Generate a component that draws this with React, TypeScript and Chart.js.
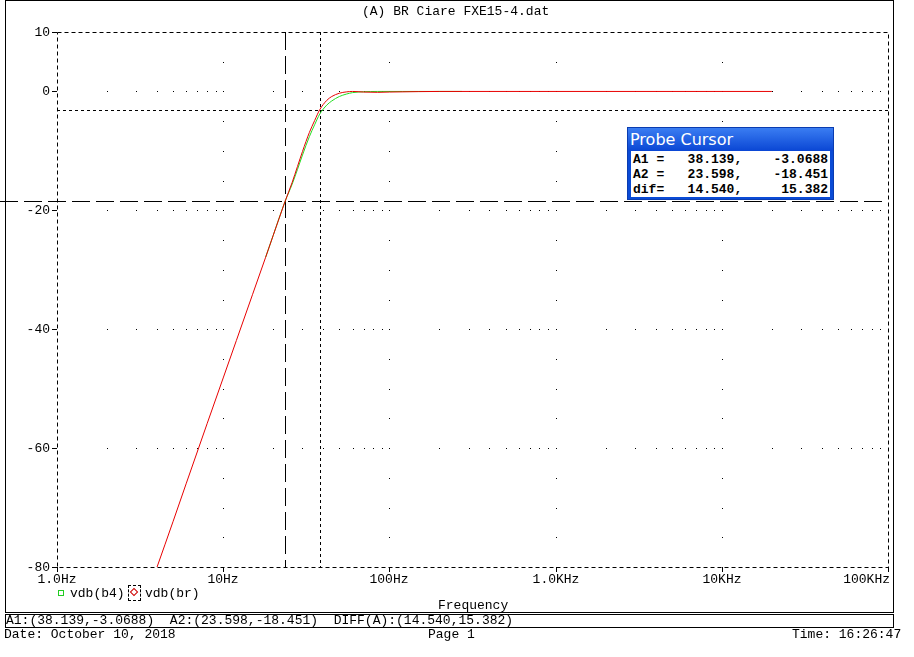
import React, { useEffect, useRef } from 'react';
import { Chart, registerables } from 'chart.js';

Chart.register(...registerables);

// ---- data ----
const xTickValues = [1, 10, 100, 1000, 10000, 100000];
const xTickLabels = ['1.0Hz', '10Hz', '100Hz', '1.0KHz', '10KHz', '100KHz'];
const yTickValues = [10, 0, -20, -40, -60, -80];
const yTickLabels = ['10', '0', '-20', '-40', '-60', '-80'];

const brFreq = [4, 5, 6, 8, 10, 12, 15, 18, 20, 23.6, 26, 28, 30, 33, 35.5, 38.1, 42, 45, 50, 55, 60, 70, 85, 100, 150, 200, 20000];
const brDb = [-80, -72.3, -65.9, -55.9, -48.2, -41.9, -34.2, -27.9, -24.2, -18.45, -15.3, -12.6, -10.1, -6.9, -4.9, -3.07, -1.5, -0.85, -0.3, -0.08, 0, -0.1, -0.15, -0.1, -0.03, 0, 0];

const b4Freq = [18, 20, 23.6, 26, 28, 30, 33, 35.5, 38.1, 42, 45, 50, 55, 60, 70, 85, 120, 273];
const b4Db = [-27.9, -24.2, -18.45, -15.6, -13.1, -10.7, -7.6, -5.6, -3.8, -2.3, -1.6, -0.85, -0.45, -0.2, -0.05, 0, 0, 0];

const cursorA1 = [38.139, -3.0688];
const cursorA2 = [23.598, -18.451];
const cursorDiff = ['14.540', '15.382'];

const gridRowsDb = [0, -20, -40, -60];
const gridDecades = [10, 100, 1000, 10000];
const minorMultipliers = [2, 3, 4, 5, 6, 7, 8, 9];

const MONO = '"Liberation Mono", "DejaVu Sans Mono", monospace';

const pspicePlugin = {
  id: 'pspice',
  beforeDatasetsDraw(chart: any) {
    const { ctx, chartArea: a, scales } = chart;
    const xs = scales.x;
    const ys = scales.y;
    const px = (v: number) => Math.round(xs.getPixelForValue(v));
    const py = (v: number) => Math.round(ys.getPixelForValue(v));
    const L = Math.round(a.left), R = Math.round(a.right), T = Math.round(a.top), B = Math.round(a.bottom);
    ctx.save();
    ctx.fillStyle = '#000';
    for (const db of gridRowsDb) {
      const y = py(db);
      for (let d = 1; d < 100000; d *= 10) {
        for (const m of minorMultipliers) ctx.fillRect(px(d * m), y, 1, 1);
      }
    }
    for (const dec of gridDecades) {
      const x = px(dec);
      for (let db = -75; db < 10; db += 5) ctx.fillRect(x, py(db), 1, 1);
    }
    ctx.strokeStyle = '#000';
    ctx.lineWidth = 1;
    ctx.setLineDash([4, 3]);
    ctx.strokeRect(L + 0.5, T + 0.5, R - L, B - T);
    const seg = (x1: number, y1: number, x2: number, y2: number) => {
      ctx.beginPath();
      ctx.moveTo(x1, y1);
      ctx.lineTo(x2, y2);
      ctx.stroke();
    };
    ctx.setLineDash([3, 3]);
    seg(px(cursorA1[0]) + 0.5, T, px(cursorA1[0]) + 0.5, B);
    seg(L, py(cursorA1[1]) + 0.5, R, py(cursorA1[1]) + 0.5);
    ctx.setLineDash([18, 6]);
    seg(px(cursorA2[0]) + 0.5, T, px(cursorA2[0]) + 0.5, B);
    seg(0, py(cursorA2[1]) + 0.5, R, py(cursorA2[1]) + 0.5);
    ctx.setLineDash([]);
    for (const v of yTickValues) seg(L - 5, py(v) + 0.5, L, py(v) + 0.5);
    for (const v of xTickValues) seg(px(v) + 0.5, B, px(v) + 0.5, B + 5);
    ctx.font = '13px ' + MONO;
    ctx.textBaseline = 'middle';
    ctx.textAlign = 'right';
    yTickValues.forEach((v, i) => ctx.fillText(yTickLabels[i], L - 7, py(v) + 1));
    xTickValues.forEach((v, i) => {
      const last = i === xTickValues.length - 1;
      ctx.textAlign = last ? 'right' : 'center';
      ctx.fillText(xTickLabels[i], last ? px(v) + 2 : px(v), B + 13);
    });
    ctx.restore();
  },
};

const abs = (left: number, top: number, extra: any = {}) => ({
  position: 'absolute' as const,
  left,
  top,
  whiteSpace: 'pre' as const,
  lineHeight: '15px',
  ...extra,
});

export default function App() {
  const ref = useRef<HTMLCanvasElement>(null);
  useEffect(() => {
    if (!ref.current) return;
    const chart = new Chart(ref.current, {
      type: 'line',
      data: {
        datasets: [
          {
            label: 'vdb(br)',
            data: brFreq.map((f, i) => ({ x: f, y: brDb[i] })),
            borderColor: '#e80000',
            borderWidth: 1,
            pointRadius: 0,
            cubicInterpolationMode: 'monotone',
          },
          {
            label: 'vdb(b4)',
            data: b4Freq.map((f, i) => ({ x: f, y: b4Db[i] })),
            borderColor: '#22dd22',
            borderWidth: 1,
            pointRadius: 0,
            cubicInterpolationMode: 'monotone',
          },
        ],
      },
      options: {
        animation: false,
        responsive: false,
        devicePixelRatio: 1,
        events: [],
        layout: { padding: { top: 32, right: 26, left: 0, bottom: 0 } },
        plugins: { legend: { display: false }, tooltip: { enabled: false }, title: { display: false } },
        scales: {
          x: {
            type: 'logarithmic',
            min: 1,
            max: 100000,
            grid: { display: false },
            border: { display: false },
            ticks: { display: false },
            afterFit: (s: any) => { s.height = 90; },
          },
          y: {
            type: 'linear',
            min: -80,
            max: 10,
            grid: { display: false },
            border: { display: false },
            ticks: { display: false },
            afterFit: (s: any) => { s.width = 57; },
          },
        },
      } as any,
      plugins: [pspicePlugin],
    });
    return () => chart.destroy();
  }, []);

  const rowStyle = { height: 15, lineHeight: '15px' };
  return (
    <div style={{ position: 'absolute', left: 0, top: 0, width: 914, height: 657, background: '#fff', fontFamily: MONO, fontSize: 13, color: '#000', overflow: 'hidden' }}>
      <canvas ref={ref} width={914} height={657} style={{ position: 'absolute', left: 0, top: 0, width: 914, height: 657 }} />
      <div style={{ position: 'absolute', left: 5, top: 0, width: 889, height: 613, border: '1px solid #000', boxSizing: 'border-box', pointerEvents: 'none' }} />
      <div style={abs(362, 4)}>(A) BR Ciare FXE15-4.dat</div>
      <div style={{ position: 'absolute', left: 58, top: 590, width: 4, height: 4, border: '1px solid #22cc22' }} />
      <div style={abs(70, 586)}>vdb(b4)</div>
      <div style={{ position: 'absolute', left: 128, top: 585, width: 11, height: 14, border: '1px dashed #000' }} />
      <div style={{ position: 'absolute', left: 131, top: 589, width: 4, height: 4, border: '1px solid #cc0000', transform: 'rotate(45deg)' }} />
      <div style={abs(145, 586)}>vdb(br)</div>
      <div style={abs(438, 598)}>Frequency</div>
      <div style={{ position: 'absolute', left: 5, top: 614, width: 889, height: 14, border: '1px solid #000', boxSizing: 'border-box' }} />
      <div style={abs(6, 613)}>{`A1:(${cursorA1[0]},${cursorA1[1]})  A2:(${cursorA2[0]},${cursorA2[1]})  DIFF(A):(${cursorDiff[0]},${cursorDiff[1]})`}</div>
      <div style={abs(4, 627)}>Date: October 10, 2018</div>
      <div style={abs(428, 627)}>Page 1</div>
      <div style={abs(792, 627)}>Time: 16:26:47</div>
      <div style={{ position: 'absolute', left: 627, top: 127, width: 207, height: 73, background: '#0a4bd6', boxSizing: 'border-box', padding: '0 3px 3px 3px', border: '1px solid #0a3cb0' }}>
        <div style={{ height: 23, lineHeight: '23px', color: '#fff', fontFamily: '"DejaVu Sans", sans-serif', fontSize: 16, background: 'linear-gradient(#3a7df2, #0a46d4)', margin: '0 -3px', paddingInline: 2 }}>Probe Cursor</div>
        <div style={{ background: '#fff', height: 46, fontFamily: MONO, fontWeight: 'bold', fontSize: 13, whiteSpace: 'pre', paddingLeft: 2, paddingTop: 1, boxSizing: 'border-box' }}>
          <div style={rowStyle}>{`A1 =   ${cursorA1[0]},    ${cursorA1[1]}`}</div>
          <div style={rowStyle}>{`A2 =   ${cursorA2[0]},    ${cursorA2[1]}`}</div>
          <div style={rowStyle}>{`dif=   ${cursorDiff[0]},     ${cursorDiff[1]}`}</div>
        </div>
      </div>
    </div>
  );
}
